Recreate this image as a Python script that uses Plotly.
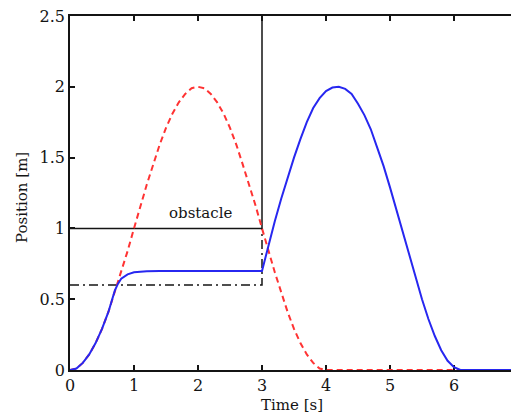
import plotly.graph_objects as go

# ---- data ----
red_t = [0.0, 0.1, 0.2, 0.3, 0.4, 0.5, 0.6, 0.7, 0.8, 0.9, 1.0, 1.1, 1.2, 1.3, 1.4, 1.5,
         1.6, 1.7, 1.8, 1.9, 2.0, 2.1, 2.2, 2.3, 2.4, 2.5, 2.6, 2.7, 2.8, 2.9, 3.0, 3.1,
         3.2, 3.3, 3.4, 3.5, 3.6, 3.7, 3.8, 3.9, 4.0, 7.0]
red_pos = [0.0, 0.01, 0.05, 0.11, 0.19, 0.29, 0.41, 0.55, 0.69, 0.84, 1.0, 1.16, 1.31, 1.45,
           1.59, 1.71, 1.81, 1.89, 1.95, 1.99, 2.0, 1.99, 1.95, 1.89, 1.81, 1.71, 1.59, 1.45,
           1.31, 1.16, 1.0, 0.84, 0.69, 0.55, 0.41, 0.29, 0.19, 0.11, 0.05, 0.01, 0.0, 0.0]

blue_t = [0.0, 0.1, 0.2, 0.3, 0.4, 0.5, 0.6, 0.7, 0.75, 0.8, 0.9, 1.0, 1.2, 1.4, 3.0,
          3.1, 3.2, 3.3, 3.4, 3.5, 3.6, 3.7, 3.8, 3.9, 4.0, 4.1, 4.2, 4.3, 4.4, 4.5, 4.6,
          4.7, 4.8, 4.9, 5.0, 5.1, 5.2, 5.3, 5.4, 5.5, 5.6, 5.7, 5.8, 5.9, 6.0, 6.1, 7.0]
blue_pos = [0.0, 0.01, 0.05, 0.11, 0.19, 0.29, 0.41, 0.56, 0.61, 0.645, 0.675, 0.69, 0.698,
            0.70, 0.70, 0.88, 1.05, 1.21, 1.36, 1.50, 1.63, 1.75, 1.85, 1.92, 1.97, 1.995,
            2.0, 1.985, 1.95, 1.88, 1.80, 1.70, 1.57, 1.44, 1.29, 1.13, 0.97, 0.81, 0.65,
            0.50, 0.36, 0.24, 0.14, 0.065, 0.02, 0.0, 0.0]

obstacle_t = [0.0, 3.0, 3.0]
obstacle_pos = [1.0, 1.0, 2.5]
margin_t = [0.0, 3.0, 3.0]
margin_pos = [0.6, 0.6, 1.0]

x_ticks = [0, 1, 2, 3, 4, 5, 6, 7]
y_ticks = [0, 0.5, 1, 1.5, 2, 2.5]
y_ticklabels = ["0", "0.5", "1", "1.5", "2", "2.5"]
obstacle_label = "obstacle"
x_title = "Time [s]"
y_title = "Position [m]"

SERIF = "DejaVu Serif, Liberation Serif, serif"
INK = "#141414"

fig = go.Figure()
fig.add_trace(go.Scatter(x=obstacle_t, y=obstacle_pos, mode="lines",
                         line=dict(color=INK, width=1.5), hoverinfo="skip"))
fig.add_trace(go.Scatter(x=margin_t, y=margin_pos, mode="lines",
                         line=dict(color=INK, width=1.5, dash="9px,4px,2px,4px"),
                         hoverinfo="skip"))
fig.add_trace(go.Scatter(x=red_t, y=red_pos, mode="lines",
                         line=dict(color="#ff3333", width=2, dash="6px,4px")))
fig.add_trace(go.Scatter(x=blue_t, y=blue_pos, mode="lines",
                         line=dict(color="#2727f0", width=2)))

fig.add_annotation(x=2.05, y=1.11, text=obstacle_label, showarrow=False,
                   font=dict(family=SERIF, size=15, color=INK))
fig.add_annotation(xref="paper", yref="paper", x=0.496, y=-0.099, text=x_title,
                   showarrow=False, xanchor="center", yanchor="middle",
                   font=dict(family=SERIF, size=15, color=INK))
fig.add_annotation(xref="paper", yref="paper", x=-0.107, y=0.486, text=y_title,
                   showarrow=False, xanchor="center", yanchor="middle", textangle=-90,
                   font=dict(family=SERIF, size=15, color=INK))

axis_common = dict(showline=True, linecolor=INK, linewidth=1.5, mirror="ticks",
                   ticks="inside", ticklen=5, tickcolor=INK, tickwidth=1.5,
                   showgrid=False, zeroline=False, layer="below traces", automargin=False,
                   ticklabeloverflow="allow",
                   tickfont=dict(family=SERIF, size=16, color=INK))

# page body has an 8px default margin, so the figure is sized to fit the window
fig.update_layout(
    width=511, height=408,
    margin=dict(l=62, r=1, t=8, b=46),
    paper_bgcolor="white", plot_bgcolor="white",
    showlegend=False,
    xaxis=dict(range=[0, 7], tickvals=x_ticks, ticktext=[str(v) for v in x_ticks],
               **axis_common),
    yaxis=dict(range=[0, 2.5], tickvals=y_ticks, ticktext=y_ticklabels,
               **axis_common),
)

fig.write_html("out.html")
